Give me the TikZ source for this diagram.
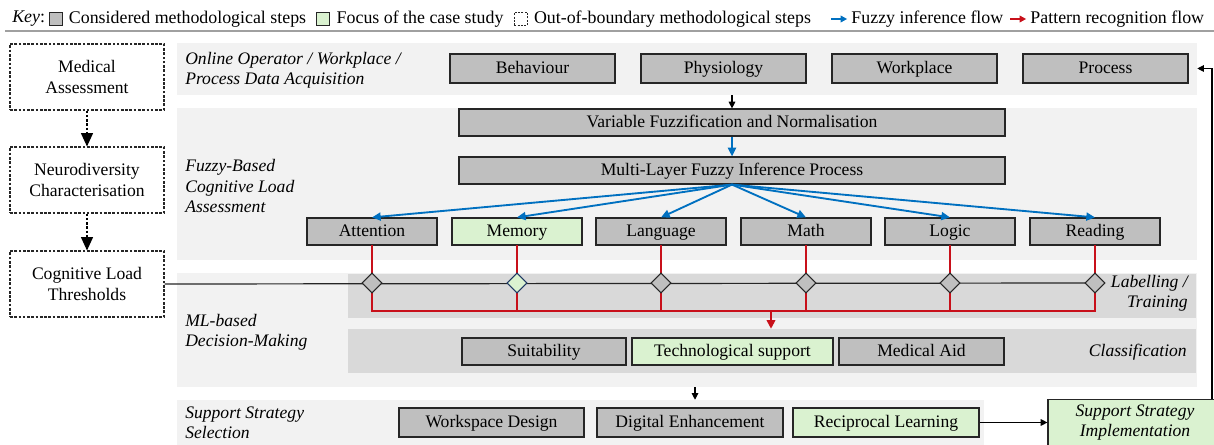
\documentclass[tikz,border=0pt]{standalone}
\usepackage{fontspec}
\setmainfont{Liberation Serif}
\usetikzlibrary{arrows.meta,shapes.geometric}
\newcommand{\pxl}[1]{#1*0.75pt}
\definecolor{panelgray}{HTML}{F2F2F2}
\definecolor{bandgray}{HTML}{D9D9D9}
\definecolor{boxgray}{HTML}{BFBFBF}
\definecolor{boxgreen}{HTML}{DAF2D0}
\definecolor{flowblue}{HTML}{0070C0}
\definecolor{flowred}{HTML}{C8101A}
\definecolor{edgec}{HTML}{262626}
\definecolor{navyedge}{HTML}{1F3864}
\definecolor{sepgray}{HTML}{A0A0A0}
\begin{document}
\begin{tikzpicture}[x=0.75pt,y=-0.75pt,
  every node/.style={font=\fontsize{13.2}{15.5}\selectfont},
  panel/.style={fill=panelgray,draw=none,inner sep=0},
  band/.style={fill=bandgray,draw=none,inner sep=0},
  frame/.style={draw=edgec,line width=0.9pt,fill=boxgray,inner sep=0},
  box/.style={frame,text height=9.6pt,text depth=1.4pt,minimum height=\pxl{28}},
  gbox/.style={box,fill=boxgreen},
  dbox/.style={draw=edgec,dash pattern=on 2pt off 1.2pt,line width=0.8pt,fill=white,align=center,inner sep=0,minimum width=\pxl{154},minimum height=\pxl{66},font=\fontsize{13.2}{16}\selectfont},
  lab/.style={font=\fontsize{13.2}{15.3}\selectfont\itshape,align=left,anchor=west,inner sep=0},
  rlab/.style={font=\fontsize{13.2}{15.3}\selectfont\itshape,align=right,anchor=east,inner sep=0},
  dia/.style={diamond,draw=edgec,fill=boxgray,line width=0.8pt,inner sep=0,minimum width=\pxl{20},minimum height=\pxl{20}},
  keysq/.style={draw=edgec,line width=0.8pt,fill=boxgray,inner sep=0,minimum size=\pxl{13},anchor=west},
  keytxt/.style={anchor=west,inner sep=0,font=\fontsize{13.4}{15.5}\selectfont},
  bluearrow/.style={draw=flowblue,line width=1.4pt,-{Triangle[length=6.5pt,width=6pt]}},
  redline/.style={draw=flowred,line width=1.3pt,line cap=rect},
  redarrow/.style={draw=flowred,line width=1.3pt,-{Triangle[length=6.5pt,width=6.5pt]}},
  blkarrow/.style={draw=black,line width=0.8pt,-{Triangle[length=5pt,width=5pt]}},
  dasharrow/.style={draw=black,line width=0.8pt,dash pattern=on 2pt off 1.2pt,-{Triangle[length=10pt,width=9pt]}},
  thinline/.style={draw=edgec,line width=0.9pt}
]
\useasboundingbox (0,0) rectangle (1214,445);
\clip (0,0) rectangle (1214,445);
\fill[white] (0,0) rectangle (1214,445);

% ---------- key ----------
\node[keytxt] (k0) at (12,19) {\itshape Key\upshape:};
\node[keysq] (k1) at ([xshift=2.5pt]k0.east) {};
\node[keytxt] (k1t) at ([xshift=4.5pt]k1.east) {Considered methodological steps};
\node[keysq,fill=boxgreen] (k2) at ([xshift=7.5pt]k1t.east) {};
\node[keytxt] (k2t) at ([xshift=4.5pt]k2.east) {Focus of the case study};
\node[keysq,fill=white,dash pattern=on 1.5pt off 1pt] (k3) at ([xshift=7.5pt]k2t.east) {};
\node[keytxt] (k3t) at ([xshift=4.5pt]k3.east) {Out-of-boundary methodological steps};
\coordinate (k4a) at ([xshift=15pt]k3t.east);
\coordinate (k4b) at ([xshift=12pt]k4a);
\draw[draw=flowblue,line width=1.4pt,-{Triangle[length=5pt,width=5pt]}] (k4a) -- (k4b);
\node[keytxt] (k4t) at ([xshift=3pt]k4b) {Fuzzy inference flow};
\coordinate (k5a) at ([xshift=5pt]k4t.east);
\coordinate (k5b) at ([xshift=12pt]k5a);
\draw[draw=flowred,line width=1.4pt,-{Triangle[length=5pt,width=5pt]}] (k5a) -- (k5b);
\node[keytxt] (k5t) at ([xshift=3pt]k5b) {Pattern recognition flow};
\draw[draw=sepgray,line width=1.1pt] (5,31) -- (1214,31);

% ---------- panels ----------
\node[panel,minimum width=\pxl{1020},minimum height=\pxl{52}] (p1) at (687,69) {};
\node[panel,minimum width=\pxl{1020},minimum height=\pxl{152}] (p2) at (687,184) {};
\node[panel,minimum width=\pxl{1020},minimum height=\pxl{114}] (p3) at (687,330) {};
\node[panel,minimum width=\pxl{807},minimum height=\pxl{60}] (p4) at (580.5,430) {};
\node[band,minimum width=\pxl{848},minimum height=\pxl{44}] (b1) at (772,296) {};
\node[band,minimum width=\pxl{848},minimum height=\pxl{44}] (b2) at (772,351) {};

% ---------- panel labels ----------
\node[lab] (l1) at (185,70) {Online Operator / Workplace /\\Process Data Acquisition};
\node[lab] (l2) at (185,186) {Fuzzy-Based\\Cognitive Load\\Assessment};
\node[lab] (l3) at (185,332) {ML-based\\Decision-Making};
\node[lab] (l4) at (185,423) {Support Strategy\\Selection};
\node[rlab] (l5) at (1188,293) {Labelling /\\Training};
\node[rlab] (l6) at (1187,352) {Classification};

% ---------- left column ----------
\node[dbox] (med) at (87,77) {Medical\\Assessment};
\node[dbox] (neu) at (87,180) {Neurodiversity\\Characterisation};
\node[dbox] (clt) at (87,284) {Cognitive Load\\Thresholds};

% ---------- data acquisition ----------
\node[box,minimum width=\pxl{165},minimum height=\pxl{29}] (beh) at (532.5,68.5) {Behaviour};
\node[box,minimum width=\pxl{165},minimum height=\pxl{29}] (phy) at (723.5,68.5) {Physiology};
\node[box,minimum width=\pxl{165},minimum height=\pxl{29}] (wkp) at (914.5,68.5) {Workplace};
\node[box,minimum width=\pxl{165},minimum height=\pxl{29}] (proc) at (1105.5,68.5) {Process};

% ---------- fuzzy ----------
\node[box,minimum width=\pxl{546},minimum height=\pxl{27}] (var) at (732,122.5) {Variable Fuzzification and Normalisation};
\node[box,minimum width=\pxl{546},minimum height=\pxl{27}] (mlf) at (732,170.5) {Multi-Layer Fuzzy Inference Process};

\node[box,minimum width=\pxl{130},minimum height=\pxl{27}] (att) at (372,231.5) {Attention};
\node[gbox,minimum width=\pxl{130},minimum height=\pxl{27}] (mem) at (517,231.5) {Memory};
\node[box,minimum width=\pxl{130},minimum height=\pxl{27}] (lan) at (661,231.5) {Language};
\node[box,minimum width=\pxl{130},minimum height=\pxl{27}] (mat) at (806,231.5) {Math};
\node[box,minimum width=\pxl{130},minimum height=\pxl{27}] (log) at (950,231.5) {Logic};
\node[box,minimum width=\pxl{130},minimum height=\pxl{27}] (rea) at (1095,231.5) {Reading};

% ---------- classification ----------
\node[box,minimum width=\pxl{164},minimum height=\pxl{27}] (sui) at (544,351.5) {Suitability};
\node[gbox,minimum width=\pxl{201},minimum height=\pxl{27}] (tec) at (732.5,351.5) {Technological support};
\node[box,minimum width=\pxl{165},minimum height=\pxl{27}] (mai) at (921.5,351.5) {Medical Aid};

% ---------- support ----------
\node[box,minimum width=\pxl{185},minimum height=\pxl{29}] (wsd) at (491.5,422.5) {Workspace Design};
\node[box,minimum width=\pxl{186},minimum height=\pxl{29}] (dig) at (690,422.5) {Digital Enhancement};
\node[gbox,minimum width=\pxl{186},minimum height=\pxl{29}] (rec) at (886,422.5) {Reciprocal Learning};
\node[frame,fill=boxgreen,minimum width=\pxl{174},minimum height=\pxl{46},align=center,font=\fontsize{13.2}{15.5}\selectfont\itshape] (ssi) at (1135,422.5) {Support Strategy\\Implementation};

% ---------- connectors ----------
\draw[dasharrow] (med) -- (neu);
\draw[dasharrow] (neu) -- (clt);

\coordinate (bus) at (771,311);
\coordinate (dl) at (0,283);
\draw[thinline] (clt.east) -- (rea.south |- dl);
\draw[redline] (att.south) -- (att.south |- bus) -- (rea.south |- bus) -- (rea.south);
\foreach \n in {mem,lan,mat,log} \draw[redline] (\n.south) -- (\n.south |- bus);
\draw[redarrow] (bus) -- (bus |- b2.north);

\node[dia] (d1) at (att.south |- dl) {};
\node[dia,fill=boxgreen,draw=navyedge] (d2) at (mem.south |- dl) {};
\node[dia] (d3) at (lan.south |- dl) {};
\node[dia] (d4) at (mat.south |- dl) {};
\node[dia] (d5) at (log.south |- dl) {};
\node[dia] (d6) at (rea.south |- dl) {};

\draw[bluearrow] (var.south) -- (mlf.north);
\foreach \n in {att,mem,lan,mat,log,rea} \draw[bluearrow] (mlf.south) -- (\n.north);

\draw[blkarrow] (p1.south -| var.north) -- (var.north);
\coordinate (ax2) at (695,0);
\draw[blkarrow] (p3.south -| ax2) -- (p4.north -| ax2);
\draw[blkarrow] (rec.east) -- (ssi.west);
\coordinate (rc) at (1212,0);
\draw[blkarrow] (ssi.north -| rc) |- (proc.east -| p1.east);
\end{tikzpicture}
\end{document}
